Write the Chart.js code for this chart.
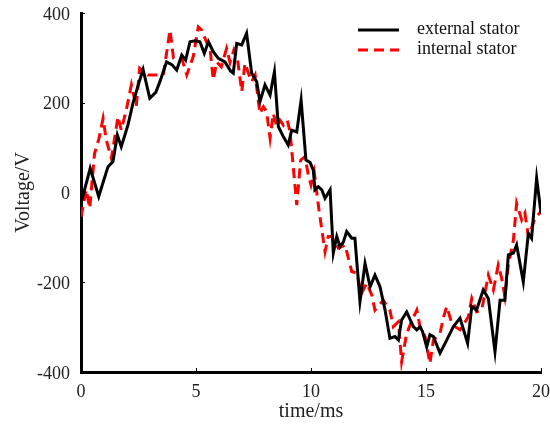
<!DOCTYPE html>
<html>
<head>
<meta charset="utf-8">
<script src="https://cdn.jsdelivr.net/npm/chart.js@4"></script>
<style>
  html, body { margin: 0; padding: 0; background: #fff; }
  #wrap { width: 550px; height: 428px; }
</style>
</head>
<body>
<div id="wrap"><canvas id="myChart" width="550" height="428"></canvas></div>
<script>
// time (ms) and voltage (V)
var extTime = [0, 0.40, 0.77, 1.17, 1.39, 1.58, 1.75, 2.04, 2.26, 2.51, 2.70, 2.99, 3.25, 3.43, 3.72, 3.95,
    4.16, 4.38, 4.55, 4.74, 4.96, 5.17, 5.36, 5.54, 5.75, 5.97, 6.26, 6.50, 6.62, 6.77, 6.99, 7.20,
    7.42, 7.64, 7.78, 8.00, 8.22, 8.41, 8.58, 8.80, 9.01, 9.16, 9.38, 9.57, 9.78, 9.96, 10.10, 10.17,
    10.32, 10.47, 10.61, 10.83, 10.97, 11.12, 11.26, 11.41, 11.55, 11.77, 11.91, 12.13, 12.35, 12.57,
    12.78, 13.00, 13.22, 13.43, 13.65, 13.80, 13.94, 14.16, 14.45, 14.60, 14.74, 14.85, 15.03, 15.17,
    15.32, 15.61, 15.90, 16.19, 16.48, 16.81, 16.99, 17.20, 17.49, 17.71, 18.00, 18.22, 18.43, 18.58,
    18.80, 18.94, 19.23, 19.45, 19.59, 19.81, 20.0];
var extVolt = [-24, 54, -9, 57, 69, 128, 102, 150, 199, 243, 274, 210, 223, 247, 291, 285,
    273, 306, 295, 336, 338, 336, 310, 336, 314, 299, 291, 271, 266, 332, 329, 355,
    266, 247, 202, 240, 217, 269, 147, 124, 106, 139, 135, 206, 72, 67, 50, 6,
    13, 6, -13, 6, -135, -98, -121, -110, -87, -102, -102, -243, -158, -210,
    -184, -210, -262, -325, -321, -329, -284, -266, -299, -306, -299, -310, -344, -317,
    -321, -358, -329, -299, -280, -336, -254, -262, -217, -236, -355, -240, -240, -139,
    -135, -117, -199, -91, -102, 32, -46];

var intTime = [0, 0.23, 0.38, 0.59, 0.78, 0.96, 1.10, 1.32, 1.61, 1.75, 1.97, 2.19, 2.40, 2.55, 2.91,
    3.27, 3.58, 3.87, 4.02, 4.38, 4.60, 4.88, 5.10, 5.25, 5.45, 5.61, 5.75, 5.90, 6.10, 6.33, 6.48,
    6.65, 6.80, 6.99, 7.13, 7.28, 7.42, 7.57, 7.78, 7.93, 8.07, 8.22, 8.36, 8.51, 8.65, 8.80, 8.97,
    9.09, 9.38, 9.55, 9.74, 9.88, 10.0, 10.14, 10.35, 10.61, 10.75, 10.90, 11.19, 11.48, 11.77, 11.99,
    12.20, 12.42, 12.64, 12.78, 13.14, 13.43, 13.58, 13.80, 13.94, 14.16, 14.35, 14.60, 14.74, 14.96,
    15.17, 15.32, 15.61, 15.75, 15.90, 16.12, 16.26, 16.48, 16.84, 16.99, 17.20, 17.42, 17.71, 17.93,
    18.14, 18.29, 18.43, 18.58, 18.80, 18.94, 19.16, 19.30, 19.45, 19.74, 20.0];
var intVolt = [-54, 6, -35, 87, 120, 165, 117, 76, 169, 139, 184, 240, 191, 277, 262,
    262, 262, 362, 300, 299, 262, 303, 369, 362, 336, 321, 251, 291, 280, 321, 290,
    318, 299, 225, 288, 266, 247, 262, 176, 191, 180, 121, 176, 147, 161, 150, 161,
    135, -28, 72, 80, 40, 17, 46, -40, -132, -98, -98, -124, -117, -176, -180,
    -225, -202, -228, -262, -240, -262, -299, -288, -377, -314, -290, -262, -299, -321,
    -381, -329, -314, -280, -254, -291, -299, -306, -277, -236, -266, -262, -184, -217,
    -162, -191, -232, -162, -106, -24, -61, -46, -98, -57, -43];

var seriesNames = ['external stator', 'internal stator'];
var xTicks = [0, 5, 10, 15, 20];
var yTicks = [-400, -200, 0, 200, 400];

function toPoints(xs, ys) {
    var pts = [];
    for (var i = 0; i < xs.length; i++) pts.push({x: xs[i], y: ys[i]});
    return pts;
}

var serif = "'Liberation Serif', 'DejaVu Serif', serif";

// legend drawn in the top right corner, inside the plot
var legendPlugin = {
    id: 'cornerLegend',
    afterDraw: function(chart) {
        var ctx = chart.ctx;
        var ds = chart.data.datasets;
        ctx.save();
        ctx.font = '18px ' + serif;
        ctx.textBaseline = 'middle';
        for (var i = 0; i < ds.length; i++) {
            var y = 30 + i * 20;
            ctx.strokeStyle = ds[i].borderColor;
            ctx.lineWidth = 3;
            ctx.setLineDash(ds[i].borderDash || []);
            ctx.beginPath();
            ctx.moveTo(358, y);
            ctx.lineTo(399, y);
            ctx.stroke();
            ctx.setLineDash([]);
            ctx.fillStyle = '#111';
            ctx.fillText(ds[i].label, 417, y - 1);
        }
        ctx.restore();
    }
};

// short tick marks pointing into the plot
var innerTicks = {
    id: 'innerTicks',
    afterDatasetsDraw: function(chart) {
        var ctx = chart.ctx, a = chart.chartArea;
        var sx = chart.scales.x, sy = chart.scales.y;
        ctx.save();
        ctx.strokeStyle = '#000';
        ctx.lineWidth = 1;
        xTicks.forEach(function(v) {
            var px = Math.round(sx.getPixelForValue(v)) + 0.5;
            ctx.beginPath(); ctx.moveTo(px, a.bottom); ctx.lineTo(px, a.bottom - 4); ctx.stroke();
        });
        yTicks.forEach(function(v) {
            var py = Math.round(sy.getPixelForValue(v)) + 0.5;
            ctx.beginPath(); ctx.moveTo(a.left, py); ctx.lineTo(a.left + 4, py); ctx.stroke();
        });
        ctx.restore();
    }
};

var ctx = document.getElementById('myChart').getContext('2d');
var chart = new Chart(ctx, {
    type: 'line',
    data: {
        datasets: [{
            label: seriesNames[0],
            data: toPoints(extTime, extVolt),
            borderColor: '#000000',
            borderWidth: 3,
            pointRadius: 0,
            tension: 0,
            fill: false
        }, {
            label: seriesNames[1],
            data: toPoints(intTime, intVolt),
            borderColor: '#ff0000',
            borderWidth: 3,
            borderDash: [10, 6],
            pointRadius: 0,
            tension: 0,
            fill: false
        }]
    },
    options: {
        responsive: false,
        animation: false,
        layout: { padding: { top: 13, right: 9, left: 0, bottom: 0 } },
        plugins: { legend: { display: false }, tooltip: { enabled: false } },
        scales: {
            x: {
                type: 'linear',
                min: 0, max: 20,
                afterFit: function(s) { s.height = 56; s.paddingLeft = 0; s.paddingRight = 0; },
                afterBuildTicks: function(s) { s.ticks = xTicks.map(function(v) { return {value: v}; }); },
                grid: { display: false },
                border: { display: true, color: '#000', width: 3 },
                ticks: { color: '#222', padding: 1, font: { family: serif, size: 18 } },
                title: { display: true, text: 'time/ms', color: '#222', padding: { top: 10, bottom: 4 },
                         font: { family: serif, size: 20 } }
            },
            y: {
                min: -400, max: 400,
                afterFit: function(s) { s.width = 81; s.paddingTop = 0; s.paddingBottom = 0; },
                afterBuildTicks: function(s) { s.ticks = yTicks.map(function(v) { return {value: v}; }); },
                grid: { display: false },
                border: { display: true, color: '#000', width: 3 },
                ticks: { color: '#222', padding: 3, labelOffset: 2, font: { family: serif, size: 18 } },
                title: { display: true, text: 'Voltage/V', color: '#222', padding: { top: 12, bottom: 0 },
                         font: { family: serif, size: 20 } }
            }
        }
    },
    plugins: [legendPlugin, innerTicks]
});
</script>
</body>
</html>
